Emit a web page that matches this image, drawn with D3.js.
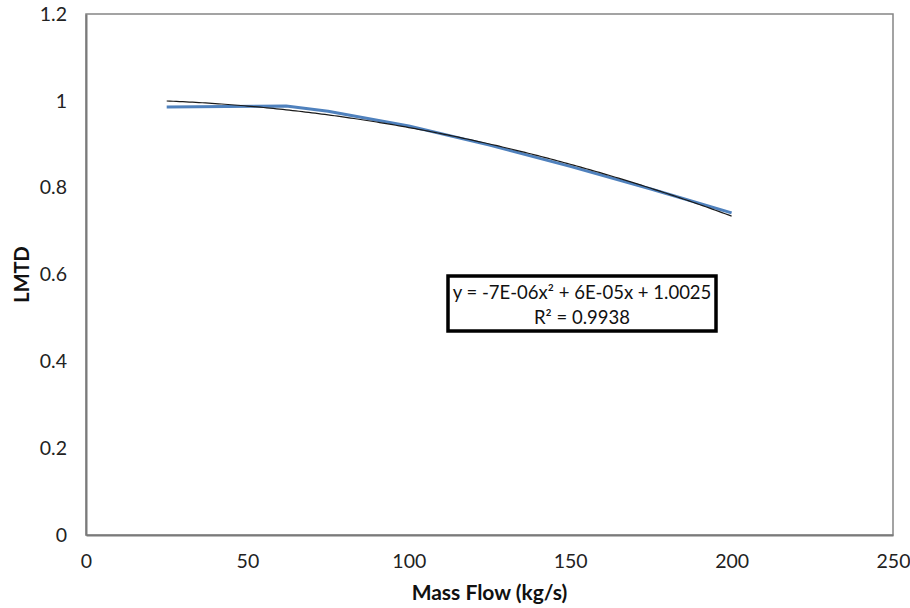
<!DOCTYPE html>
<html>
<head>
<meta charset="utf-8">
<script src="https://cdn.jsdelivr.net/npm/d3@7/dist/d3.min.js"></script>
<style>
  html, body { margin: 0; padding: 0; background: #ffffff; }
  svg { display: block; font-family: "Lato", "Open Sans", sans-serif; }
</style>
</head>
<body>
<svg id="chart" width="910" height="608"></svg>
<script>
// Measured LMTD versus mass flow
const massFlow = [25, 62, 75, 100, 125, 150, 175, 200];
const lmtd     = [0.986, 0.988, 0.976, 0.942, 0.898, 0.849, 0.797, 0.742];

// Polynomial trendline (order 2) as reported on the chart
const trendCoef = [-7e-6, 6e-5, 1.0025];   // a, b, c  for  y = a·x² + b·x + c
const trendLabel = ["y = -7E-06x\u00B2 + 6E-05x + 1.0025", "R\u00B2 = 0.9938"];

// Axis ticks and titles
const xTicks = [0, 50, 100, 150, 200, 250];
const yTicks = [0, 0.2, 0.4, 0.6, 0.8, 1, 1.2];
const xTitle = "Mass Flow (kg/s)";
const yTitle = "LMTD";

const svg = d3.select("#chart");
const plot = { left: 86, right: 893, top: 14, bottom: 535 };

const x = d3.scaleLinear().domain([0, 250]).range([plot.left, plot.right]);
const y = d3.scaleLinear().domain([0, 1.2]).range([plot.bottom, plot.top]);

// Plot area frame
svg.append("rect")
  .attr("x", plot.left).attr("y", plot.top)
  .attr("width", plot.right - plot.left).attr("height", plot.bottom - plot.top)
  .attr("fill", "#ffffff").attr("stroke", "#858585").attr("stroke-width", 1.5);

// Axes (labels only, no tick marks)
const xAxis = svg.append("g")
  .attr("transform", `translate(0,${plot.bottom})`)
  .call(d3.axisBottom(x).tickValues(xTicks).tickSize(0).tickPadding(19).tickFormat(d3.format("d")));
const yAxis = svg.append("g")
  .attr("transform", `translate(${plot.left},0)`)
  .call(d3.axisLeft(y).tickValues(yTicks).tickSize(0).tickPadding(19).tickFormat(d => String(+d.toFixed(1))));

[xAxis, yAxis].forEach(g => {
  g.select(".domain").attr("stroke", "#7a7a7a").attr("stroke-width", 2);
  g.selectAll("text").attr("font-size", 19.5).attr("fill", "#222").attr("font-family", "Lato, sans-serif");
});

// Data series
const line = d3.line().x((d, i) => x(massFlow[i])).y(d => y(d));
svg.append("path")
  .attr("d", line(lmtd))
  .attr("fill", "none")
  .attr("stroke", "#4f81bd")
  .attr("stroke-width", 3)
  .attr("stroke-linejoin", "round");

// Trendline across the data range
const trend = v => trendCoef[0] * v * v + trendCoef[1] * v + trendCoef[2];
const trendX = d3.range(massFlow[0], massFlow[massFlow.length - 1] + 0.5, 1);
svg.append("path")
  .attr("d", d3.line().x(v => x(v)).y(v => y(trend(v)))(trendX))
  .attr("fill", "none")
  .attr("stroke", "#1a1a1a")
  .attr("stroke-width", 1.2);

// Trendline equation box
const box = { x: 448, y: 276, w: 268, h: 55 };
svg.append("rect")
  .attr("x", box.x).attr("y", box.y).attr("width", box.w).attr("height", box.h)
  .attr("fill", "#ffffff").attr("stroke", "#000000").attr("stroke-width", 3.5);
svg.append("g").selectAll("text")
  .data(trendLabel)
  .join("text")
  .attr("x", box.x + box.w / 2)
  .attr("y", (d, i) => box.y + 23 + i * 25)
  .attr("text-anchor", "middle")
  .attr("font-size", 18.5)
  .attr("fill", "#111")
  .text(d => d);

// Axis titles
svg.append("text")
  .attr("x", (plot.left + plot.right) / 2)
  .attr("y", 600)
  .attr("text-anchor", "middle")
  .attr("font-size", 21)
  .attr("font-weight", "bold")
  .attr("fill", "#111")
  .text(xTitle);

svg.append("text")
  .attr("transform", `translate(29,${(plot.top + plot.bottom) / 2}) rotate(-90)`)
  .attr("text-anchor", "middle")
  .attr("font-size", 20)
  .attr("font-weight", "bold")
  .attr("fill", "#111")
  .text(yTitle);
</script>
</body>
</html>
